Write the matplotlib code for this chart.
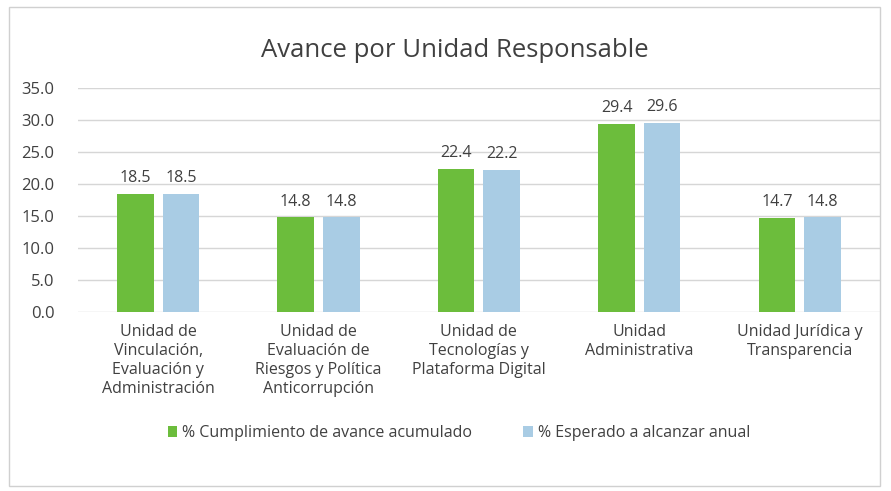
import numpy as np
import matplotlib
matplotlib.use('Agg')
import matplotlib.pyplot as plt
from matplotlib.patches import Rectangle

# ---- datos ----
categorias = ['Unidad de\nVinculación,\nEvaluación y\nAdministración',
              'Unidad de\nEvaluación de\nRiesgos y Política\nAnticorrupción',
              'Unidad de\nTecnologías y\nPlataforma Digital',
              'Unidad\nAdministrativa',
              'Unidad Jurídica y\nTransparencia']
cumplimiento = [18.5, 14.8, 22.4, 29.4, 14.7]
esperado = [18.5, 14.8, 22.2, 29.6, 14.8]
serie_labels = ['% Cumplimiento de avance acumulado', '% Esperado a alcanzar anual']
yticks = [0, 5, 10, 15, 20, 25, 30, 35]

plt.rcParams['font.family'] = ['Open Sans', 'DejaVu Sans']
texto = '#404040'
verde = '#6cbd3c'
azul = '#a9cce4'

fig = plt.figure(figsize=(8.91, 4.91), dpi=100)
fig.patch.set_facecolor('white')
# marco del grafico
fig.patches.append(Rectangle((0.01, 0.01), 0.978, 0.975, transform=fig.transFigure,
                             fill=False, edgecolor='#d0d0d0', linewidth=1.0))

ax = fig.add_axes([0.0875, 0.3646, 0.9, 0.4562])
x = np.arange(len(categorias))
w = 0.228
gap = 0.056
b1 = ax.bar(x - (w + gap) / 2, cumplimiento, w, color=verde, label=serie_labels[0], zorder=3)
b2 = ax.bar(x + (w + gap) / 2, esperado, w, color=azul, label=serie_labels[1], zorder=3)

for bars, vals in ((b1, cumplimiento), (b2, esperado)):
    for r, v in zip(bars, vals):
        ax.text(r.get_x() + r.get_width() / 2, v + 1.2, '%.1f' % v, ha='center', va='bottom',
                fontsize=11.5, color=texto)

ax.set_xlim(-0.5, len(categorias) - 0.5)
ax.set_ylim(0, 35)
ax.set_yticks(yticks)
ax.set_yticklabels(['%.1f' % t for t in yticks], fontsize=12, color=texto)
ax.set_xticks(x)
ax.set_xticklabels(categorias, fontsize=11.5, color=texto, linespacing=1.25)
ax.tick_params(length=0, pad=9)
ax.tick_params(axis='y', pad=17)
ax.grid(axis='y', color='#d6d6d6', linewidth=1.0, zorder=0)
for s in ax.spines.values():
    s.set_visible(False)

fig.text(0.51, 0.898, 'Avance por Unidad Responsable', ha='center', va='center',
         fontsize=18.5, color=texto)

fig.legend(handles=[b1, b2], labels=serie_labels, loc='center', bbox_to_anchor=(0.515, 0.118),
           ncol=2, frameon=False, fontsize=11.5, labelcolor=texto, handlelength=0.6,
           handleheight=0.6, handletextpad=0.3, columnspacing=3.2)

plt.savefig('out.png', dpi=100)
